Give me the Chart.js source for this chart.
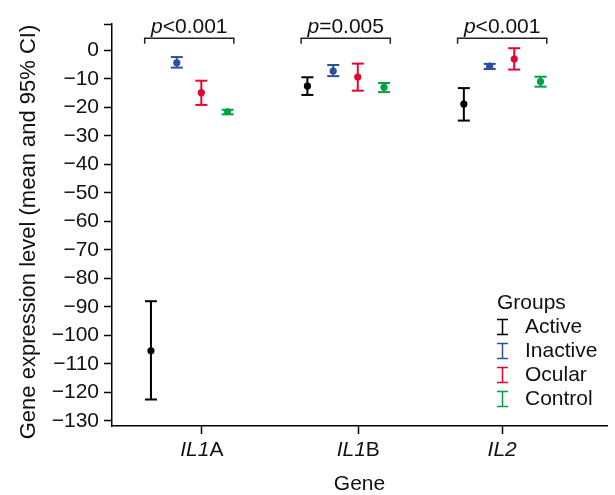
<!DOCTYPE html>
<html>
<head>
<meta charset="utf-8">
<script src="https://cdn.jsdelivr.net/npm/chart.js@4.4.0/dist/chart.umd.min.js"></script>
<style>
  html, body { margin: 0; padding: 0; background: #fff; overflow: hidden; }
  canvas { display: block; }
</style>
</head>
<body>
<canvas id="geneChart" width="615" height="495"></canvas>
<script>
// genes on the x axis
const genes = ['IL1A', 'IL1B', 'IL2'];
const geneX = [1, 2, 3];               // centre of each cluster
const geneTickX = [1.08, 2.08, 3.0];   // where the axis ticks sit
const pLabels = ['<0.001', '=0.005', '<0.001'];

const groups = ['Active', 'Inactive', 'Ocular', 'Control'];
const groupColors = ['#000000', '#2c4f9e', '#e3062f', '#00a046'];
const groupOffset = [-0.245, -0.08, 0.077, 0.245];

// mean and 95% CI per gene (IL1A, IL1B, IL2)
const activeMean = [-105.4, -12.5, -18.8];
const activeLow = [-122.5, -15.6, -24.6];
const activeHigh = [-88.0, -9.4, -13.2];

const inactiveMean = [-4.3, -7.2, -5.5];
const inactiveLow = [-6.0, -9.0, -6.5];
const inactiveHigh = [-2.3, -5.1, -4.7];

const ocularMean = [-14.8, -9.3, -3.0];
const ocularLow = [-19.1, -14.1, -6.7];
const ocularHigh = [-10.6, -4.6, 0.8];

const controlMean = [-21.5, -12.9, -10.9];
const controlLow = [-22.4, -14.6, -12.7];
const controlHigh = [-20.8, -11.4, -9.2];

const yTicks = [0, -10, -20, -30, -40, -50, -60, -70, -80, -90, -100, -110, -120, -130];
const yMin = -131.8, yMax = 9.3;

const means = [activeMean, inactiveMean, ocularMean, controlMean];
const lows = [activeLow, inactiveLow, ocularLow, controlLow];
const highs = [activeHigh, inactiveHigh, ocularHigh, controlHigh];

const FONT = "'Liberation Sans', Arial, sans-serif";

const datasets = [];
groups.forEach((g, k) => {
  datasets.push({
    label: g,
    data: geneX.map((gx, i) => ({x: gx + groupOffset[k], y: means[k][i]})),
    pointRadius: 3.6,
    pointBackgroundColor: groupColors[k],
    pointBorderWidth: 0,
    order: 0
  });
});
groups.forEach((g, k) => {
  const pts = [];
  geneX.forEach((gx, i) => {
    const xv = gx + groupOffset[k];
    pts.push({x: xv, y: lows[k][i]}, {x: xv, y: highs[k][i]}, {x: xv, y: null});
  });
  datasets.push({
    label: g + ' CI',
    data: pts,
    showLine: true,
    spanGaps: false,
    borderColor: groupColors[k],
    borderWidth: 2,
    pointStyle: 'line',
    pointRadius: 6,
    pointBorderWidth: 2,
    pointBorderColor: groupColors[k],
    order: 1
  });
});

function drawParts(ctx, parts, cx, y, size) {
  let total = 0;
  parts.forEach(p => {
    ctx.font = (p[1] ? 'italic ' : '') + size + 'px ' + FONT;
    p.w = ctx.measureText(p[0]).width;
    total += p.w;
  });
  let xp = cx - total / 2;
  ctx.textAlign = 'left';
  parts.forEach(p => {
    ctx.font = (p[1] ? 'italic ' : '') + size + 'px ' + FONT;
    ctx.fillText(p[0], xp, y);
    xp += p.w;
  });
}

const overlay = {
  id: 'overlay',
  afterDraw(chart) {
    const {ctx, chartArea, scales: {x, y}} = chart;
    ctx.save();
    ctx.fillStyle = '#111';

    // y axis title
    ctx.save();
    ctx.translate(29, 232);
    ctx.rotate(-Math.PI / 2);
    ctx.textAlign = 'center';
    ctx.textBaseline = 'middle';
    ctx.font = '22px ' + FONT;
    ctx.fillText('Gene expression level (mean and 95% CI)', 0, 0);
    ctx.restore();

    // gene names under the ticks, IL part in italics
    ctx.textBaseline = 'middle';
    genes.forEach((g, i) => {
      const m = g.match(/^(IL\d)(.*)$/);
      drawParts(ctx, [[m[1], true], [m[2], false]], x.getPixelForValue(geneTickX[i]), x.top + 24, 21);
    });

    // significance brackets
    ctx.strokeStyle = '#222';
    ctx.lineWidth = 1.5;
    const top = y.getPixelForValue(4.3), leg = y.getPixelForValue(2.4);
    geneX.forEach((gx, i) => {
      const l = x.getPixelForValue(gx - 0.285), r = x.getPixelForValue(gx + 0.285);
      ctx.beginPath();
      ctx.moveTo(l, leg); ctx.lineTo(l, top); ctx.lineTo(r, top); ctx.lineTo(r, leg);
      ctx.stroke();
      ctx.textBaseline = 'alphabetic';
      drawParts(ctx, [['p', true], [pLabels[i], false]], x.getPixelForValue(gx), top - 5, 21);
    });

    // legend
    const lx = chartArea.right - 110;
    let ly = chartArea.bottom - 123;
    ctx.textBaseline = 'middle';
    ctx.textAlign = 'left';
    ctx.font = '21px ' + FONT;
    ctx.fillText('Groups', lx, ly);
    groups.forEach((g, k) => {
      ly += 24;
      const ix = lx + 5.5;
      ctx.strokeStyle = groupColors[k];
      ctx.lineWidth = 1.5;
      ctx.beginPath();
      ctx.moveTo(ix - 5.5, ly - 7.5); ctx.lineTo(ix + 5.5, ly - 7.5);
      ctx.moveTo(ix, ly - 7.5); ctx.lineTo(ix, ly + 7.5);
      ctx.moveTo(ix - 5.5, ly + 7.5); ctx.lineTo(ix + 5.5, ly + 7.5);
      ctx.stroke();
      ctx.fillStyle = '#111';
      ctx.font = '21px ' + FONT;
      ctx.fillText(g, lx + 28, ly);
    });
    ctx.restore();
  }
};

new Chart(document.getElementById('geneChart'), {
  type: 'scatter',
  data: {datasets: datasets},
  options: {
    responsive: false,
    animation: false,
    layout: {padding: {top: 24, right: 0, bottom: 0, left: 0}},
    plugins: {
      legend: {display: false},
      tooltip: {enabled: false}
    },
    scales: {
      x: {
        type: 'linear',
        min: 0.506,
        max: 3.67,
        afterBuildTicks: s => { s.ticks = geneTickX.map(v => ({value: v})); },
        afterFit: s => { s.height = 69; },
        ticks: {autoSkip: false, callback: () => ''},
        grid: {drawOnChartArea: false, drawTicks: true, tickLength: 8, tickColor: '#000', tickWidth: 1.5},
        border: {display: true, color: '#000', width: 1.5},
        title: {display: true, text: 'Gene', color: '#111', padding: 0,
                font: {family: FONT, size: 21, lineHeight: 1}}
      },
      y: {
        type: 'linear',
        min: yMin,
        max: yMax,
        afterBuildTicks: s => { s.ticks = yTicks.concat([yMax]).map(v => ({value: v})); },
        afterFit: s => { s.width = 112; },
        ticks: {
          autoSkip: false,
          padding: 5,
          color: '#111',
          font: {family: FONT, size: 21},
          callback: v => v === yMax ? '' : String(v).replace('-', '\u2212')
        },
        grid: {drawOnChartArea: false, drawTicks: true, tickLength: 8, tickColor: '#000', tickWidth: 1.5},
        border: {display: true, color: '#000', width: 1.5}
      }
    }
  },
  plugins: [overlay]
});
</script>
</body>
</html>
